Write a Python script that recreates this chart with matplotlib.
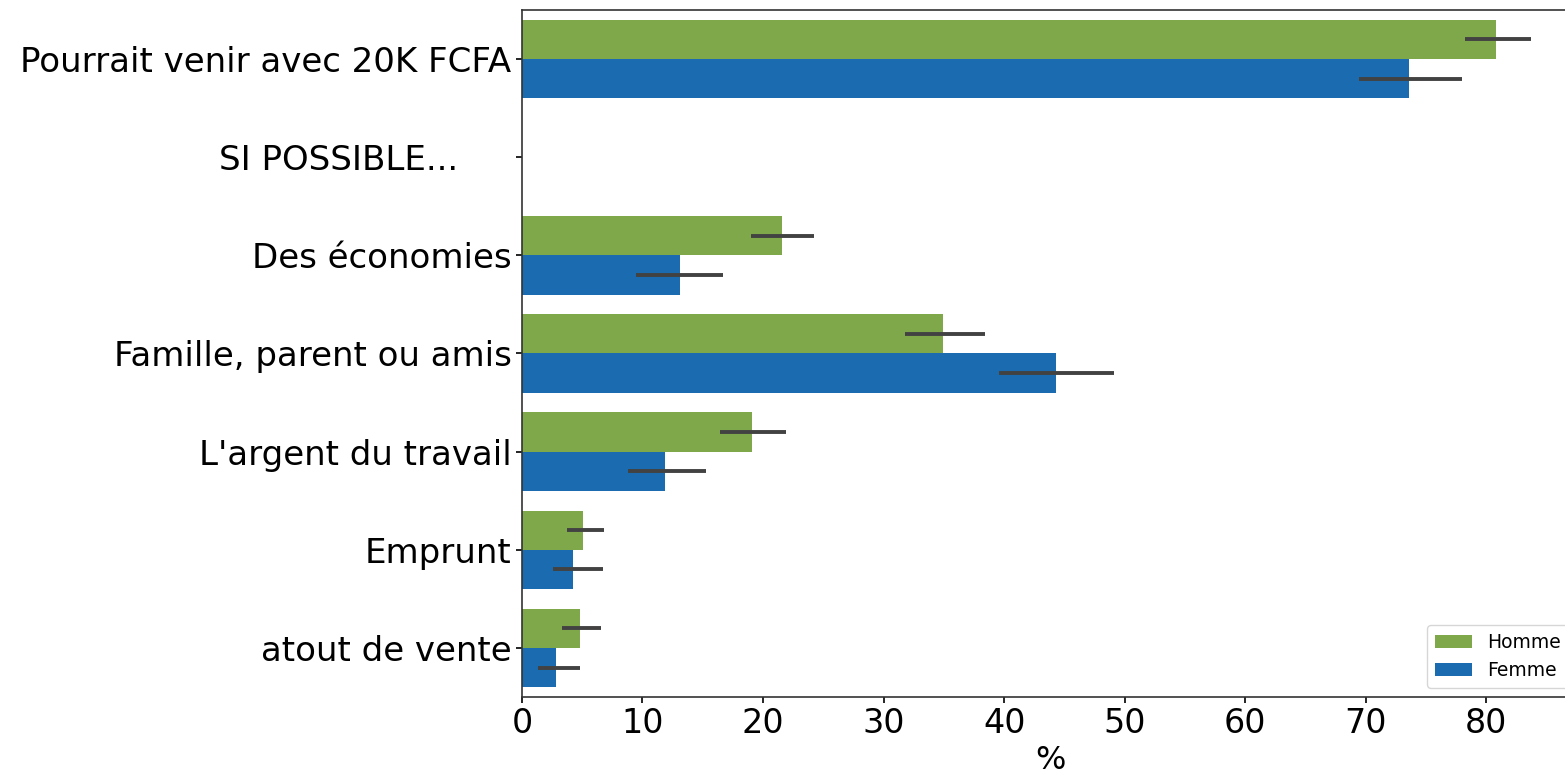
import numpy as np
import matplotlib
matplotlib.use("Agg")
import matplotlib.pyplot as plt

categories = ["Pourrait venir avec 20K FCFA", "SI POSSIBLE...     ", "Des économies",
              "Famille, parent ou amis", "L'argent du travail", "Emprunt", "atout de vente"]

homme = [80.8, np.nan, 21.6, 34.9, 19.1, 5.1, 4.8]
homme_lo = [78.2, np.nan, 19.0, 31.8, 16.4, 3.7, 3.3]
homme_hi = [83.7, np.nan, 24.2, 38.4, 21.9, 6.8, 6.6]

femme = [73.6, np.nan, 13.1, 44.3, 11.9, 4.2, 2.8]
femme_lo = [69.4, np.nan, 9.5, 39.6, 8.8, 2.6, 1.3]
femme_hi = [78.0, np.nan, 16.7, 49.1, 15.3, 6.7, 4.8]

green = "#7fa84b"
blue = "#1a6baf"
errc = "#424242"

fig = plt.figure(figsize=(15.65, 7.81), dpi=100)
ax = fig.add_axes([0.3335, 0.1076, 0.6748, 0.8796])

y = np.arange(len(categories))
h = 0.4
ax.barh(y - h / 2, homme, height=h, color=green, label="Homme")
ax.barh(y + h / 2, femme, height=h, color=blue, label="Femme")
ax.hlines(y - h / 2, homme_lo, homme_hi, color=errc, linewidth=2.8)
ax.hlines(y + h / 2, femme_lo, femme_hi, color=errc, linewidth=2.8)

ax.set_ylim(len(categories) - 0.5, -0.5)
ax.set_xlim(0, 87.6)
ax.set_yticks(y)
ax.set_yticklabels(categories, fontsize=24.5)
ax.set_xticks(np.arange(0, 81, 10))
ax.tick_params(axis="x", labelsize=24)
ax.tick_params(width=1.2, length=4)
for s in ax.spines.values():
    s.set_linewidth(1.2)
    s.set_color("#333333")
ax.set_xlabel("%", fontsize=23, labelpad=3)

ax.legend(loc="lower right", fontsize=13.5)

plt.savefig("out.png", dpi=100)
plt.close()
